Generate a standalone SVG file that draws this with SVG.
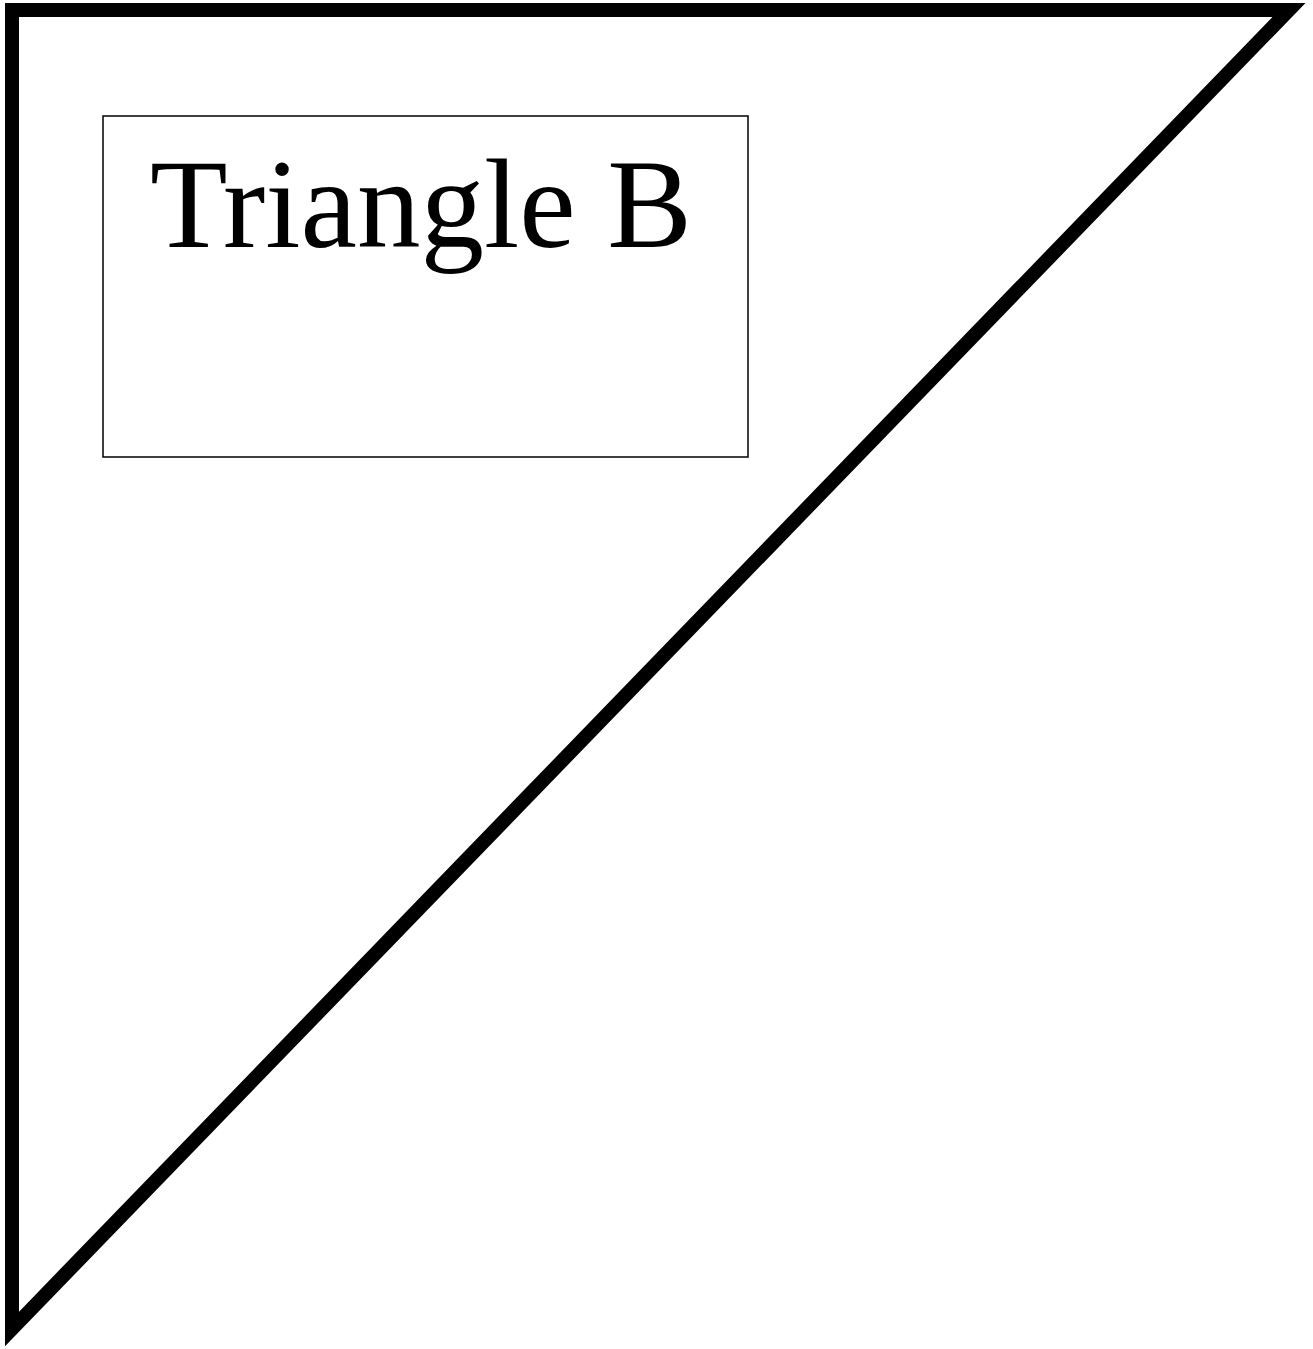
<svg xmlns="http://www.w3.org/2000/svg" width="1313" height="1349" viewBox="0 0 1313 1349">
<style>
.tri{fill:#fff;stroke:#000;stroke-width:14;stroke-linejoin:miter;stroke-miterlimit:10}
.box{fill:#fff;stroke:#000;stroke-width:1.5}
.lbl{font-family:"Liberation Serif","Times New Roman",serif;font-size:127px;fill:#000}
</style>
<rect width="1313" height="1349" fill="#fff"/>
<g id="triangle-b">
<polygon class="tri" points="12,10 1289,10 12,1329"/>
</g>
<g id="label-box">
<rect class="box" x="103" y="116" width="645" height="341"/>
<text class="lbl" x="421" y="247" text-anchor="middle">Triangle B</text>
</g>
<g id="connectors"></g>
</svg>
